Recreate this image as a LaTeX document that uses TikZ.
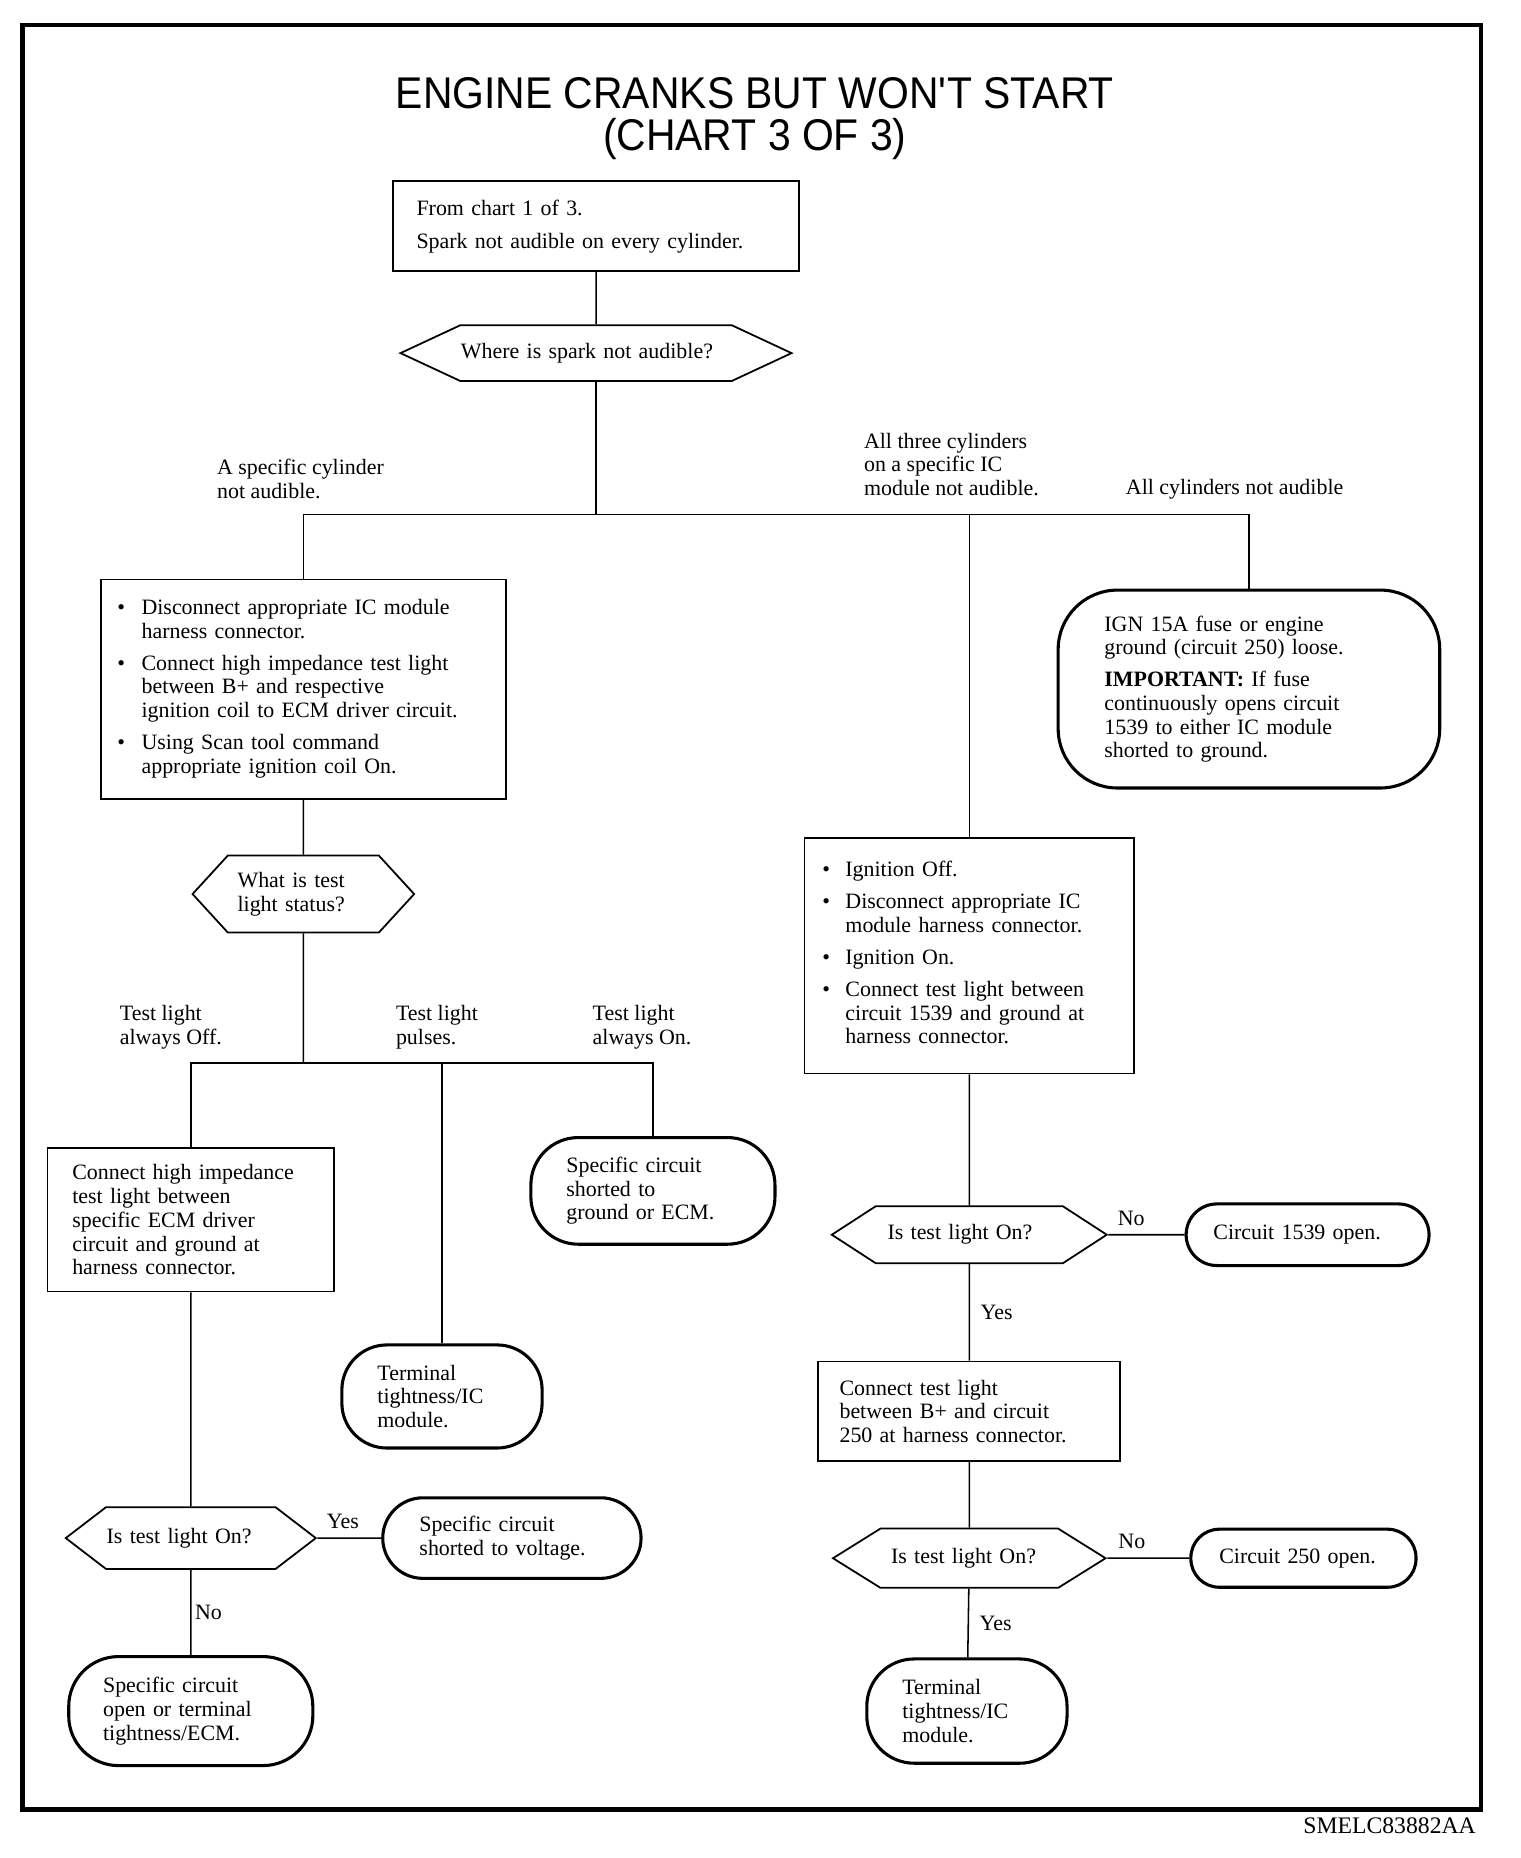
\documentclass[tikz,border=0pt]{standalone}
\usepackage{fontspec}
\setmainfont{Liberation Serif}
\newfontfamily\titlefont[FakeStretch=0.92]{Liberation Sans}
\usetikzlibrary{positioning,shapes.symbols}
\tikzset{
  body/.style={font=\fontsize{18.5}{20}\selectfont},
  stepbox/.style={draw, line width=1.5pt, align=left, inner xsep=#1, inner ysep=3pt},
  stepbox/.default=18pt,
  endbox/.style={draw, line width=2.6pt, rounded corners=#1, align=left, inner ysep=3pt},
  endbox/.default=40pt,
  query/.style={draw, line width=1.5pt, signal, signal to=east and west,
                signal pointer angle=#1, inner sep=0pt, align=left},
  query/.default=90,
  branch/.style={anchor=west, align=left, inner sep=0pt},
  link/.style={line width=1.3pt},
  answer/.style={inner sep=3pt},
}

\begin{document}
\begin{tikzpicture}[x=1pt, y=-1pt, body]
\useasboundingbox (0,0) rectangle (1283,1568);
\draw[line width=3.5pt] (19,21) rectangle (1250,1527);
\node[font=\titlefont\fontsize{37.5}{36}\selectfont, align=center] (title) at (637,100)
  {ENGINE CRANKS BUT WON\textquotesingle T START\\(CHART 3 OF 3)};

% top of chart
\node[stepbox=20pt, text width=303pt, minimum height=76pt] (start) at (503,191)
  {From chart 1 of 3.\\[8pt]Spark not audible on every cylinder.};
\node[query=50, minimum width=330pt, minimum height=47pt, text width=228pt] (q1) at (503,298)
  {Where is spark not audible?};
\coordinate (bar1) at (503,434);
\node[branch] (la) at (183,404) {A specific cylinder\\not audible.};
\node[branch] (lb) at (729,392) {All three cylinders\\on a specific IC\\module not audible.};
\node[branch] (lc) at (950,413) {All cylinders not audible};

% left branch
\node[stepbox=14pt, text width=314pt, minimum height=185pt] (s1) at (256,581.5)
  {\begin{tabular}{@{}l@{\hspace{14pt}}l@{}}
   \textbullet & Disconnect appropriate IC module\\
               & harness connector.\\[7pt]
   \textbullet & Connect high impedance test light\\
               & between B+ and respective\\
               & ignition coil to ECM driver circuit.\\[7pt]
   \textbullet & Using Scan tool command\\
               & appropriate ignition coil On.
   \end{tabular}};
\node[query=95, minimum width=187pt, minimum height=65pt, text width=111pt] (q2) at (256,754.5)
  {What is test\\light status?};
\coordinate (bar2) at (256,897);
\node[branch] (ld) at (101,867) {Test light\\always Off.};
\node[branch] (le) at (334,867) {Test light\\pulses.};
\node[branch] (lf) at (500,867) {Test light\\always On.};

\node[stepbox=21pt, text width=200pt, minimum height=121pt] (s3) at (161,1029.5)
  {Connect high impedance\\test light between\\specific ECM driver\\circuit and ground at\\harness connector.};
\node[endbox=40pt, text width=146pt, inner xsep=30pt, minimum height=90pt] (r1) at (551,1005)
  {Specific circuit\\shorted to\\ground or ECM.};
\node[endbox=38pt, text width=109pt, inner xsep=30pt, minimum height=87pt] (r2) at (373,1178.5)
  {Terminal\\tightness/IC\\module.};
\node[query=75, minimum width=211pt, minimum height=52pt, text width=142pt] (q3) at (161,1298)
  {Is test light On?};
\node[endbox=34pt, text width=156pt, inner xsep=31pt, minimum height=68pt] (r3) at (432,1298)
  {Specific circuit\\shorted to voltage.};
\node[endbox=42pt, text width=148pt, inner xsep=29pt, minimum height=92pt] (r4) at (161,1444)
  {Specific circuit\\open or terminal\\tightness/ECM.};

% right branches
\node[endbox=50pt, text width=244pt, inner xsep=39pt, minimum height=167pt] (ign) at (1054,581.5)
  {IGN 15A fuse or engine\\ground (circuit 250) loose.\\[7pt]\textbf{IMPORTANT:} If fuse\\continuously opens circuit\\1539 to either IC module\\shorted to ground.};
\node[stepbox=15pt, text width=248pt, minimum height=199pt] (s2) at (818,806.5)
  {\begin{tabular}{@{}l@{\hspace{13pt}}l@{}}
   \textbullet & Ignition Off.\\[7pt]
   \textbullet & Disconnect appropriate IC\\
               & module harness connector.\\[7pt]
   \textbullet & Ignition On.\\[7pt]
   \textbullet & Connect test light between\\
               & circuit 1539 and ground at\\
               & harness connector.
   \end{tabular}};
\node[query=66, minimum width=232pt, minimum height=48pt, text width=138pt] (q4) at (818,1042)
  {Is test light On?};
\node[endbox=26pt, text width=159pt, inner xsep=23pt, minimum height=52pt] (r5) at (1103.5,1042)
  {Circuit 1539 open.};
\node[stepbox=18pt, text width=219pt, minimum height=84pt] (s4) at (818,1191)
  {Connect test light\\between B+ and circuit\\250 at harness connector.};
\node[query=64, minimum width=230pt, minimum height=50pt, text width=132pt] (q5) at (818,1315)
  {Is test light On?};
\node[endbox=24pt, text width=142pt, inner xsep=24pt, minimum height=49pt] (r6) at (1100,1315)
  {Circuit 250 open.};
\node[endbox=40pt, text width=109pt, inner xsep=30pt, minimum height=88pt] (r7) at (816,1444)
  {Terminal\\tightness/IC\\module.};

\node[anchor=east, font=\fontsize{20}{20}\selectfont] (code) at (1249,1541) {SMELC83882AA};

% connectors
\draw[link] (start) -- (q1);
\draw[link] (q1) -- (bar1);
\draw[link] (s1.north) |- (bar1) -| (ign.north);
\draw[link] (bar1 -| s2.north) -- (s2.north);
\draw[link] (s1) -- (q2);
\draw[link] (q2) -- (bar2);
\draw[link] (s3.north) |- (bar2) -| (r1.north);
\draw[link] (bar2 -| r2.north) -- (r2.north);
\draw[link] (s3) -- (q3);
\draw[link] (q3) -- node[answer, above=4pt, pos=0.4] {Yes} (r3);
\draw[link] (q3) -- node[answer, right] {No} (r4);
\draw[link] (s2) -- (q4);
\draw[link] (q4) -- node[answer, above=4pt, pos=0.3] {No} (r5);
\draw[link] (q4) -- node[answer, right=6pt] {Yes} (s4);
\draw[link] (s4) -- (q5);
\draw[link] (q5) -- node[answer, above=4pt, pos=0.3] {No} (r6);
\draw[link] (q5) -- node[answer, right=6pt] {Yes} (r7);
\end{tikzpicture}
\end{document}
